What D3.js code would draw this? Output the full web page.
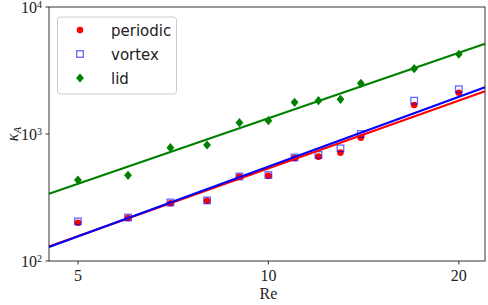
<!DOCTYPE html>
<html>
<head>
<meta charset="utf-8">
<script src="https://cdn.jsdelivr.net/npm/d3@7"></script>
<style>
  body { margin: 0; background: #fff; }
  svg { display: block; }
</style>
</head>
<body>
<script>
// chart size
var wW = 488;
var wH = 305;

// data
var reValues = [5, 6, 7, 8, 9, 10, 11, 12, 13, 14, 17, 20];
var periodic = [200, 218, 285, 298, 461, 469, 647, 663, 713, 935, 1692, 2115];
var vortex = [205, 220, 289, 300, 463, 475, 653, 684, 771, 1000, 1829, 2249];
var lid = [434, 473, 780, 819, 1227, 1273, 1777, 1829, 1876, 2507, 3268, 4244];

var xTicks = [5, 10, 20];
var yTicks = [2, 3, 4]; // exponents of ten

var series = [
  { name: 'periodic', values: periodic, color: '#ff0000', marker: 'circle' },
  { name: 'vortex', values: vortex, color: '#0000ff', marker: 'square' },
  { name: 'lid', values: lid, color: '#008000', marker: 'diamond' }
];

var margin = { left: 49, right: 3, top: 7, bottom: 44 };

var x = d3.scaleLog()
  .domain([4.5, 22])
  .range([margin.left, wW - margin.right]);

var y = d3.scaleLog()
  .domain([100, 10000])
  .range([wH - margin.bottom, margin.top]);

var svg = d3.select('body').append('svg')
  .attr('width', wW)
  .attr('height', wH);

// least squares fit in log-log space
var fitPower = (xs, ys) => {
  var lx = xs.map(v => Math.log10(v));
  var ly = ys.map(v => Math.log10(v));
  var mx = d3.mean(lx), my = d3.mean(ly);
  var sxy = 0, sxx = 0;
  lx.forEach((v, i) => {
    sxy += (v - mx) * (ly[i] - my);
    sxx += (v - mx) * (v - mx);
  });
  var slope = sxy / sxx;
  var icpt = my - slope * mx;
  return (v) => Math.pow(10, icpt + slope * Math.log10(v));
};

var drawMarker = (g, kind, cx, cy, color) => {
  if (kind == 'circle') {
    g.append('circle')
      .attr('cx', cx).attr('cy', cy).attr('r', 3.3)
      .attr('fill', color);
  } else if (kind == 'square') {
    g.append('rect')
      .attr('x', cx - 3.3).attr('y', cy - 3.3)
      .attr('width', 6.6).attr('height', 6.6)
      .attr('fill', 'none')
      .attr('stroke', color)
      .attr('stroke-opacity', 0.6)
      .attr('stroke-width', 1.3);
  } else {
    var s = 4.6;
    g.append('path')
      .attr('d', 'M' + cx + ',' + (cy - s) + 'L' + (cx + s * 0.85) + ',' + cy +
        'L' + cx + ',' + (cy + s) + 'L' + (cx - s * 0.85) + ',' + cy + 'Z')
      .attr('fill', color);
  }
};

// markers
series.forEach((s) => {
  var g = svg.append('g');
  s.values.forEach((v, i) => {
    drawMarker(g, s.marker, x(reValues[i]), y(v), s.color);
  });
});

// fitted lines
var line = d3.line().x(d => x(d[0])).y(d => y(d[1]));
series.forEach((s) => {
  var f = fitPower(reValues, s.values);
  var dom = x.domain();
  svg.append('path')
    .attr('d', line([[dom[0], f(dom[0])], [dom[1], f(dom[1])]]))
    .attr('fill', 'none')
    .attr('stroke', s.color)
    .attr('stroke-width', 2.2);
});

// frame
var r = x.range(), yr = y.range();
svg.append('rect')
  .attr('x', r[0]).attr('y', yr[1])
  .attr('width', r[1] - r[0]).attr('height', yr[0] - yr[1])
  .attr('fill', 'none')
  .attr('stroke', '#333')
  .attr('stroke-width', 1);

// x ticks
var serif = '"Liberation Serif", "DejaVu Serif", serif';
xTicks.forEach((t) => {
  svg.append('line')
    .attr('x1', x(t)).attr('x2', x(t))
    .attr('y1', yr[0]).attr('y2', yr[0] + 3.5)
    .attr('stroke', '#333');
  svg.append('text')
    .attr('x', x(t)).attr('y', yr[0] + 20)
    .attr('text-anchor', 'middle')
    .attr('font-family', serif)
    .attr('font-size', 16)
    .attr('fill', '#222')
    .text(t);
});

// y ticks
yTicks.forEach((e) => {
  var yy = y(Math.pow(10, e));
  svg.append('line')
    .attr('x1', r[0] - 3.5).attr('x2', r[0])
    .attr('y1', yy).attr('y2', yy)
    .attr('stroke', '#333');
  var t = svg.append('text')
    .attr('x', r[0] - 7).attr('y', yy + 6)
    .attr('text-anchor', 'end')
    .attr('font-family', serif)
    .attr('font-size', 16)
    .attr('fill', '#222');
  t.append('tspan').text('10');
  t.append('tspan').attr('dy', -5.5).attr('font-size', 10).text(e);
});

// axis labels
svg.append('text')
  .attr('x', x(10)).attr('y', 299)
  .attr('text-anchor', 'middle')
  .attr('font-family', serif)
  .attr('font-size', 16)
  .attr('fill', '#222')
  .text('Re');

var yl = svg.append('text')
  .attr('transform', 'translate(18,' + ((yr[0] + yr[1]) / 2) + ') rotate(-90)')
  .attr('text-anchor', 'middle')
  .attr('font-family', serif)
  .attr('font-size', 16)
  .attr('fill', '#222');
yl.append('tspan').attr('font-style', 'italic').text('κ');
yl.append('tspan').attr('dy', 3).attr('font-size', 11).attr('font-style', 'italic').text('A');

// legend
var lg = svg.append('g');
lg.append('rect')
  .attr('x', 57.5).attr('y', 17)
  .attr('width', 119).attr('height', 77)
  .attr('rx', 3)
  .attr('fill', '#fff')
  .attr('fill-opacity', 0.8)
  .attr('stroke', '#ccc');
series.forEach((s, i) => {
  var ly = 30 + i * 24;
  drawMarker(lg, s.marker, 80, ly, s.color);
  lg.append('text')
    .attr('x', 111).attr('y', ly + 5.5)
    .attr('font-family', '"DejaVu Sans", sans-serif')
    .attr('font-size', 15)
    .attr('fill', '#222')
    .text(s.name);
});
</script>
</body>
</html>
